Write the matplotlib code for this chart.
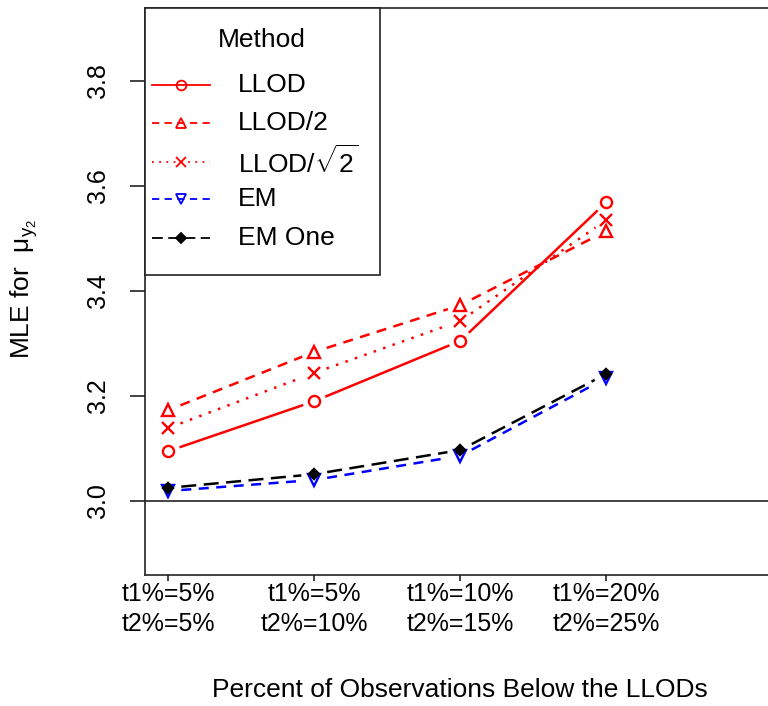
import numpy as np
import matplotlib
matplotlib.use('Agg')
import matplotlib.pyplot as plt
from matplotlib.lines import Line2D
from matplotlib.patches import Rectangle

plt.rcParams['font.family'] = ['Liberation Sans', 'DejaVu Sans']
plt.rcParams['mathtext.fontset'] = 'custom'
plt.rcParams['mathtext.rm'] = 'Liberation Sans'
plt.rcParams['mathtext.it'] = 'Liberation Sans'

# data
x_pos = [1, 2, 3, 4]
tick_labels = ['t1%=5%\nt2%=5%', 't1%=5%\nt2%=10%', 't1%=10%\nt2%=15%', 't1%=20%\nt2%=25%']
llod = [3.095, 3.190, 3.305, 3.569]
llod_half = [3.173, 3.284, 3.373, 3.514]
llod_sqrt2 = [3.139, 3.244, 3.343, 3.535]
em = [3.019, 3.040, 3.086, 3.234]
em_one = [3.025, 3.051, 3.097, 3.242]

W, H = 768, 706
fig = plt.figure(figsize=(W / 100, H / 100), dpi=100)


def fx(px):
    return px / W


def fy(py):
    return 1 - py / H


# axes box runs past the right edge of the figure
ax = fig.add_axes([fx(145), fy(575), 651 / W, (575 - 8) / H])
ax.set_xlim(0.84, 5.3)
ax.set_ylim(2.859, 3.939)

for s in ax.spines.values():
    s.set_linewidth(1.2)
    s.set_color('#222222')

ax.axhline(3.0, color='#222222', lw=1.2)


def draw_gapped(xs, ys, gap_px, **kw):
    # R type="b": lines stop short of the points
    trans = ax.transData
    pts = trans.transform(np.column_stack([xs, ys]))
    for p0, p1 in zip(pts[:-1], pts[1:]):
        d = p1 - p0
        u = d / np.hypot(*d)
        a, b = trans.inverted().transform([p0 + u * gap_px, p1 - u * gap_px])
        ax.plot([a[0], b[0]], [a[1], b[1]], **kw)


series = [
    (llod, 'LLOD', 'red', '-', 'o', 'none'),
    (llod_half, 'LLOD/2', 'red', (0, (4, 3)), '^', 'none'),
    (llod_sqrt2, r'LLOD/$\sqrt{2}$', 'red', (0, (1, 3)), 'x', 'none'),
    (em, 'EM', 'blue', (0, (4, 3)), 'v', 'none'),
    (em_one, 'EM One', 'black', (0, (6, 3)), 'D', 'black'),
]

for ys, lab, col, ls, mk, mfc in series:
    draw_gapped(x_pos, ys, 13, color=col, lw=1.8, linestyle=ls)
    ms = 5.5 if mk == 'D' else 8
    ax.plot(x_pos, ys, linestyle='none', marker=mk, markersize=ms,
            markerfacecolor=mfc, markeredgecolor=col, markeredgewidth=1.7)

ax.set_xticks(x_pos)
ax.set_xticklabels(tick_labels, fontsize=18, linespacing=1.3)
ax.set_yticks([3.0, 3.2, 3.4, 3.6, 3.8])
ax.set_yticklabels(['3.0', '3.2', '3.4', '3.6', '3.8'], rotation=90, va='center', fontsize=18)
ax.tick_params(axis='both', width=1.2, color='#222222')
ax.tick_params(axis='y', length=11, pad=14)
ax.tick_params(axis='x', length=4, pad=1)

fig.text(fx(24), fy(289), r'MLE for  $\mu_{y_2}$', rotation=90, ha='center', va='center', fontsize=19)
fig.text(fx(460), fy(690), 'Percent of Observations Below the LLODs', ha='center', va='center', fontsize=19)

# legend box drawn by hand, R style
fig.add_artist(Rectangle((fx(145), fy(275)), (380 - 145) / W, (275 - 8) / H, transform=fig.transFigure,
                         facecolor='white', edgecolor='#222222', lw=1.2, zorder=5))
fig.text(fx(262), fy(40), 'Method', ha='center', va='center', fontsize=19, zorder=6)
row_y = [85, 123, 162, 199, 238]
for (ys, lab, col, ls, mk, mfc), ry in zip(series, row_y):
    ms = 5 if mk == 'D' else 7
    fig.add_artist(Line2D([fx(152), fx(210)], [fy(ry), fy(ry)], transform=fig.transFigure,
                          color=col, lw=1.3, linestyle=ls, zorder=6))
    fig.add_artist(Line2D([fx(181)], [fy(ry)], transform=fig.transFigure, linestyle='none',
                          marker=mk, markersize=ms, markerfacecolor=mfc, markeredgecolor=col,
                          markeredgewidth=1.3, zorder=7))
    fig.text(fx(238), fy(ry), lab, ha='left', va='center', fontsize=19, zorder=6)

fig.savefig('out.png', dpi=100, facecolor='white')
